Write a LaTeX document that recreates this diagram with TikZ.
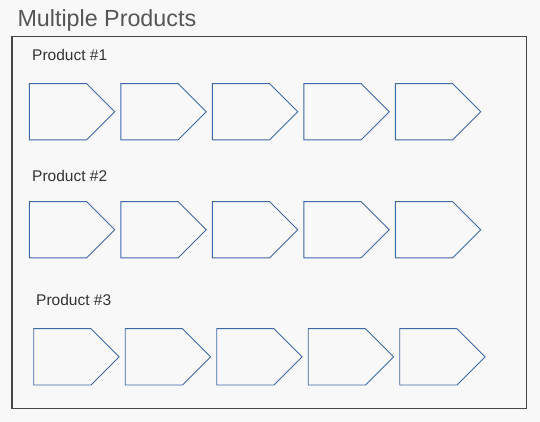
\documentclass[tikz,border=0pt]{standalone}
\usepackage{fontspec}
\setmainfont{Liberation Sans}
\usetikzlibrary{shapes, shapes.symbols, positioning}

\definecolor{stepblue}{RGB}{62,104,166}
\definecolor{framegray}{RGB}{70,70,70}
\definecolor{titlegray}{RGB}{85,85,85}
\definecolor{bggray}{RGB}{248,248,248}

\tikzset{
  stage/.style={draw=stepblue, line width=0.9pt, signal, signal to=east,
    signal pointer angle=90, minimum width=85.4pt, minimum height=56.3pt,
    inner sep=0pt, outer sep=0pt},
  prodlabel/.style={anchor=base west, inner sep=0pt, text=black!80,
    font=\fontsize{15.5}{18}\selectfont}
}

\begin{document}
\begin{tikzpicture}[x=1pt, y=1pt, node distance=6.1pt]
    \fill[bggray] (0,0) rectangle (540,-422);
    \useasboundingbox (0,0) rectangle (540,-422);

    \node[anchor=base west, inner sep=0pt, text=titlegray,
      font=\fontsize{23.3}{27}\selectfont] (title) at (17.3,-26.7) {Multiple Products};
    \draw[framegray, line width=1.1pt] (12,-36.5) rectangle (526.3,-408.7);

    \node[prodlabel] (label1) at (32,-61) {Product \#1};
    \node[prodlabel] (label2) at (32,-181) {Product \#2};
    \node[prodlabel] (label3) at (36,-305.7) {Product \#3};

    \node[stage, anchor=west] (prod1a) at (29.3,-111.8) {};
    \node[stage, right = of prod1a] (prod1b) {};
    \node[stage, right = of prod1b] (prod1c) {};
    \node[stage, right = of prod1c] (prod1d) {};
    \node[stage, right = of prod1d] (prod1e) {};

    \node[stage, anchor=west] (prod2a) at (29.3,-229.7) {};
    \node[stage, right = of prod2a] (prod2b) {};
    \node[stage, right = of prod2b] (prod2c) {};
    \node[stage, right = of prod2c] (prod2d) {};
    \node[stage, right = of prod2d] (prod2e) {};

    \node[stage, anchor=west] (prod3a) at (33.7,-356.8) {};
    \node[stage, right = of prod3a] (prod3b) {};
    \node[stage, right = of prod3b] (prod3c) {};
    \node[stage, right = of prod3c] (prod3d) {};
    \node[stage, right = of prod3d] (prod3e) {};
  \end{tikzpicture}
\end{document}
